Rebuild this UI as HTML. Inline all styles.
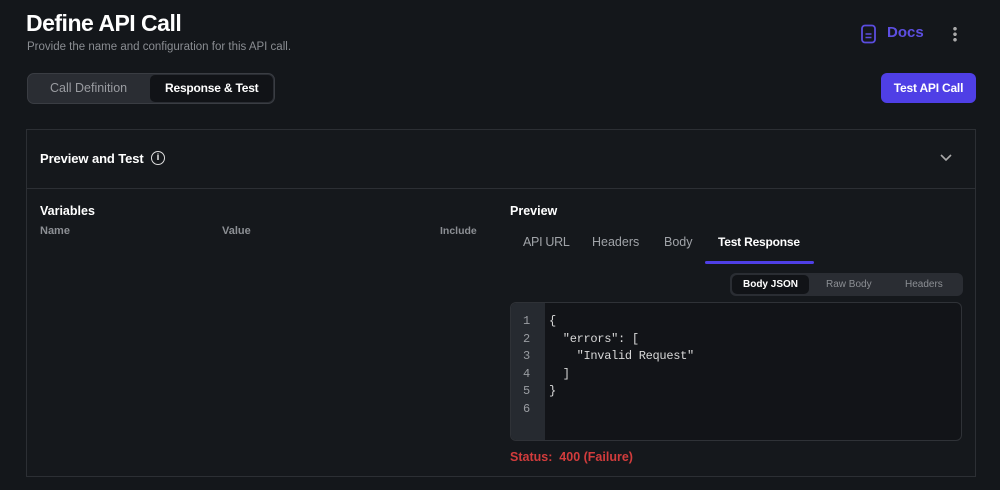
<!DOCTYPE html>
<html><head><meta charset="utf-8"><style>
*{margin:0;padding:0;box-sizing:border-box}
body{width:1000px;height:490px;background:#14171b;font-family:"Liberation Sans",sans-serif;position:relative;overflow:hidden;color:#fff}
.a{position:absolute;white-space:nowrap}
.b{font-weight:bold}
.mono{font-family:"Liberation Mono",monospace;font-size:12px;color:#d8d8d8}
</style></head><body>
<div class="a b" style="left:26px;top:10px;font-size:23px;letter-spacing:-0.5px">Define API Call</div>
<div class="a" style="left:27px;top:41px;font-size:11.5px;color:#8a8d92">Provide the name and configuration for this API call.</div>
<div class="a" style="left:27px;top:73px;width:248px;height:31px;border-radius:7px;background:#2a2d33;border:1px solid #3a3d43"></div>
<div class="a" style="left:150px;top:75px;width:123px;height:27px;border-radius:5px;background:#111317"></div>
<div class="a" style="left:50px;top:81px;font-size:12.5px;color:#9a9ca1">Call Definition</div>
<div class="a b" style="left:165px;top:81px;font-size:12px;letter-spacing:-0.2px">Response &amp; Test</div>
<svg class="a" style="left:860px;top:24px" width="18" height="20" viewBox="0 0 18 20"><rect x="2" y="1.5" width="13" height="17" rx="3" fill="none" stroke="#5b4de0" stroke-width="1.8"/><line x1="5.5" y1="10" x2="11.5" y2="10" stroke="#5b4de0" stroke-width="1.5"/><line x1="5.5" y1="13.5" x2="11.5" y2="13.5" stroke="#5b4de0" stroke-width="1.5"/></svg>
<div class="a b" style="left:887px;top:24px;font-size:15px;color:#5d4fe2">Docs</div>
<div class="a" style="left:953px;top:26px;width:4px;height:16px;background:radial-gradient(circle,#aaa 1.6px,transparent 2px) 0 0/4px 5.5px repeat-y"></div>
<div class="a b" style="left:881px;top:73px;width:95px;height:30px;border-radius:6px;background:#4f3fe6;font-size:12px;letter-spacing:-0.2px;text-align:center;line-height:30px">Test API Call</div>
<div class="a" style="left:26px;top:129px;width:950px;height:348px;border:1px solid #2c2f34;background:#15181c"></div>
<div class="a" style="left:27px;top:188px;width:948px;height:1px;background:#2c2f34"></div>
<div class="a b" style="left:40px;top:151px;font-size:13px;letter-spacing:-0.1px">Preview and Test</div>
<div class="a" style="left:151px;top:151px;width:14px;height:14px;border:1.5px solid #ddd;border-radius:50%;font-size:9px;text-align:center;line-height:11px;font-weight:bold">i</div>
<svg class="a" style="left:939px;top:153px" width="14" height="10"><polyline points="2,2 7,7 12,2" fill="none" stroke="#aaa" stroke-width="1.6"/></svg>
<div class="a b" style="left:40px;top:204px;font-size:12.5px">Variables</div>
<div class="a b" style="left:40px;top:225px;font-size:11px;color:#8c8f94">Name</div>
<div class="a b" style="left:222px;top:225px;font-size:11px;color:#8c8f94">Value</div>
<div class="a b" style="left:440px;top:225px;font-size:10.5px;color:#8c8f94">Include</div>
<div class="a b" style="left:510px;top:204px;font-size:12.5px">Preview</div>
<div class="a" style="left:523px;top:235px;font-size:12.5px;color:#a0a3a8;letter-spacing:-0.3px">API URL</div>
<div class="a" style="left:592px;top:235px;font-size:12.5px;color:#a0a3a8">Headers</div>
<div class="a" style="left:664px;top:235px;font-size:12.5px;color:#a0a3a8">Body</div>
<div class="a b" style="left:718px;top:235px;font-size:12px;letter-spacing:-0.2px">Test Response</div>
<div class="a" style="left:705px;top:261px;width:109px;height:3px;background:#4f3fe6;border-radius:2px"></div>
<div class="a" style="left:730px;top:273px;width:233px;height:23px;border-radius:6px;background:#2a2d33"></div>
<div class="a b" style="left:732px;top:275px;width:77px;height:19px;border-radius:5px;background:#111317;font-size:10px;text-align:center;line-height:19px">Body JSON</div>
<div class="a" style="left:826px;top:279px;font-size:10px;color:#8c8f94">Raw Body</div>
<div class="a" style="left:905px;top:279px;font-size:10px;color:#8c8f94">Headers</div>
<div class="a" style="left:510px;top:302px;width:452px;height:139px;border-radius:6px;border:1px solid #2f3237;background:#121418;overflow:hidden"><div style="width:34px;height:100%;background:#262a30"></div></div>
<div class="a mono" style="left:523px;top:313px;line-height:17.5px;color:#9a9da2">1<br>2<br>3<br>4<br>5<br>6</div>
<div class="a mono" style="left:549px;top:313px;line-height:17.5px;white-space:pre;letter-spacing:-0.3px">{
  "errors": [
    "Invalid Request"
  ]
}</div>
<div class="a b" style="left:510px;top:450px;font-size:12.5px;color:#d23c3c">Status:&nbsp; 400 (Failure)</div>
</body></html>
